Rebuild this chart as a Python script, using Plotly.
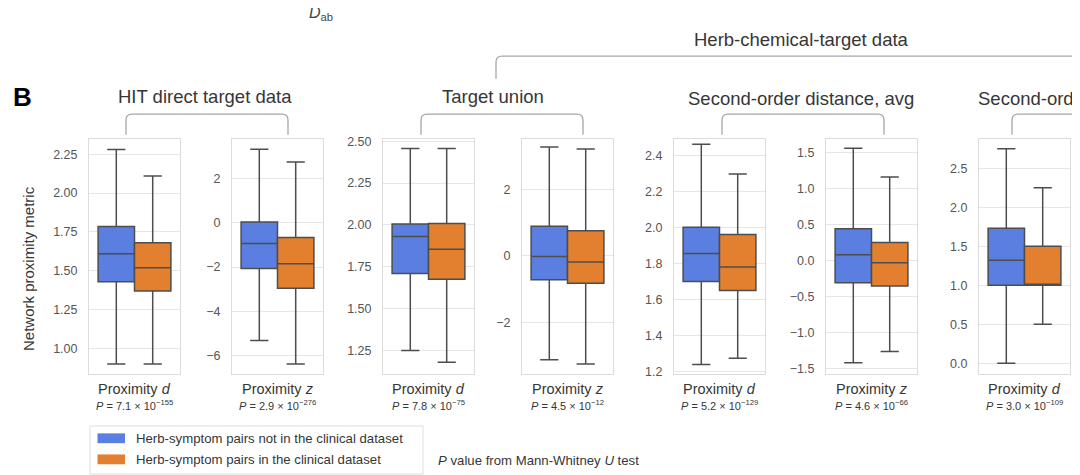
import plotly.graph_objects as go

W, H = 1080, 475

# ---------------- data ----------------
metric_labels = ["Proximity <i>d</i>", "Proximity <i>z</i>", "Proximity <i>d</i>", "Proximity <i>z</i>",
                 "Proximity <i>d</i>", "Proximity <i>z</i>", "Proximity <i>d</i>"]
p_mantissa = ["7.1", "2.9", "7.8", "4.5", "5.2", "4.6", "3.0"]
p_exponent = ["155", "276", "75", "12", "129", "66", "109"]

# Herb-symptom pairs NOT in the clinical dataset
not_lower = [0.90, -5.32, 1.25, -3.11, 1.24, -1.42, 0.00]
not_q1 = [1.43, -2.07, 1.71, -0.71, 1.70, -0.31, 1.00]
not_median = [1.61, -0.94, 1.93, -0.02, 1.855, 0.08, 1.32]
not_q3 = [1.785, 0.03, 2.005, 0.89, 2.00, 0.44, 1.73]
not_upper = [2.28, 3.32, 2.457, 3.27, 2.46, 1.56, 2.75]

# Herb-symptom pairs IN the clinical dataset
in_lower = [0.90, -6.38, 1.18, -3.24, 1.275, -1.265, 0.50]
in_q1 = [1.37, -2.96, 1.675, -0.82, 1.65, -0.355, 1.00]
in_median = [1.52, -1.85, 1.855, -0.185, 1.78, -0.03, 1.00]
in_q3 = [1.68, -0.67, 2.008, 0.755, 1.96, 0.25, 1.50]
in_upper = [2.11, 2.74, 2.457, 3.21, 2.295, 1.16, 2.25]

series_names = ["Herb-symptom pairs not in the clinical dataset",
                "Herb-symptom pairs in the clinical dataset"]

# axis settings
y_ranges = [[0.836, 2.351], [-6.83, 3.80], [1.109, 2.516], [-3.54, 3.52],
            [1.1875, 2.492], [-1.578, 1.695], [-0.138, 2.881]]
y_ticks = [[1.00, 1.25, 1.50, 1.75, 2.00, 2.25], [-6, -4, -2, 0, 2], [1.25, 1.50, 1.75, 2.00, 2.25, 2.50],
           [-2, 0, 2], [1.2, 1.4, 1.6, 1.8, 2.0, 2.2, 2.4], [-1.5, -1.0, -0.5, 0.0, 0.5, 1.0, 1.5],
           [0.0, 0.5, 1.0, 1.5, 2.0, 2.5]]
y_formats = [".2f", "d", ".2f", "d", ".1f", ".1f", ".1f"]

# ---------------- layout geometry (pixels) ----------------
panel_x = [(81, 172), (224, 315), (375, 466), (514, 605), (666, 757), (818, 909), (971, 1062)]
panel_top, panel_bot = 129, 369

BLUE = "#5a7fe1"
ORANGE = "#e2802f"
EDGE = "#4d4d4d"
TXT = "#363636"
FONT = "Liberation Sans, Arial, sans-serif"


def px(x):
    return x / W


def py(y):
    return 1 - y / H


fig = go.Figure()
layout = {}
for i in range(7):
    n = "" if i == 0 else str(i + 1)
    xa, ya = "x" + n, "y" + n
    fig.add_trace(go.Box(
        x=[-0.2], q1=[not_q1[i]], median=[not_median[i]], q3=[not_q3[i]],
        lowerfence=[not_lower[i]], upperfence=[not_upper[i]],
        width=0.4, fillcolor=BLUE, line=dict(color=EDGE, width=1.5),
        whiskerwidth=0.5, name=series_names[0], showlegend=False,
        xaxis=xa, yaxis=ya, hoverinfo="skip"))
    fig.add_trace(go.Box(
        x=[0.2], q1=[in_q1[i]], median=[in_median[i]], q3=[in_q3[i]],
        lowerfence=[in_lower[i]], upperfence=[in_upper[i]],
        width=0.4, fillcolor=ORANGE, line=dict(color=EDGE, width=1.5),
        whiskerwidth=0.5, name=series_names[1], showlegend=False,
        xaxis=xa, yaxis=ya, hoverinfo="skip"))
    L, R = panel_x[i]
    layout["xaxis" + n] = dict(domain=[px(L), px(R)], anchor=ya, range=[-0.5, 0.5],
                               showticklabels=False, showgrid=False, zeroline=False,
                               showline=True, mirror=True, linecolor="#dcdcdc", linewidth=1,
                               fixedrange=True)
    layout["yaxis" + n] = dict(domain=[py(panel_bot), py(panel_top)], anchor=xa, range=y_ranges[i],
                               tickvals=y_ticks[i], tickformat=y_formats[i],
                               showgrid=True, gridcolor="#e6e6e6", gridwidth=1, zeroline=False,
                               showline=True, mirror=True, linecolor="#dcdcdc", linewidth=1,
                               ticks="", ticklabelstandoff=8,
                               tickfont=dict(family=FONT, size=12.5, color="#555555"),
                               fixedrange=True)

annotations = []
shapes = []


def text(x, y, s, size, xanchor="center", color=TXT, angle=0, yanchor="middle"):
    annotations.append(dict(x=px(x), y=py(y), xref="paper", yref="paper", text=s, showarrow=False,
                            xanchor=xanchor, yanchor=yanchor, textangle=angle,
                            font=dict(family=FONT, size=size, color=color)))


# x-axis category labels and P values
for i in range(7):
    L, R = panel_x[i]
    c = (L + R) / 2
    text(c, 384, metric_labels[i], 14.5)
    text(c, 401, "<i>P</i> = %s × 10<sup>−%s</sup>" % (p_mantissa[i], p_exponent[i]), 11)

# y title
text(20, 262, "Network proximity metric", 15, angle=-90)

# panel letter and top label
text(3, 87, "<b>B</b>", 26, xanchor="left", color="#000000")
text(299, 2, "<i>D</i><sub>ab</sub>", 16, xanchor="left", color="#444444")

# group titles
text(197, 86, "HIT direct target data", 18.5)
text(485, 86, "Target union", 18.5)
text(793, 88, "Second-order distance, avg", 18.5)
text(968, 88, "Second-order distance, min", 18.5, xanchor="left")
text(793, 28, "Herb-chemical-target data", 18.5)

BR = "#a6a6a6"


def bracket(x1, x2, ytop, ybot, r=6, right_leg=True):
    p = "M %f,%f L %f,%f Q %f,%f %f,%f L %f,%f" % (
        px(x1), py(ybot), px(x1), py(ytop + r), px(x1), py(ytop), px(x1 + r), py(ytop),
        px(x2 - r), py(ytop))
    if right_leg:
        p += " Q %f,%f %f,%f L %f,%f" % (px(x2), py(ytop), px(x2), py(ytop + r), px(x2), py(ybot))
    shapes.append(dict(type="path", path=p, xref="paper", yref="paper",
                       line=dict(color=BR, width=1.3)))


bracket(118, 280, 104, 125)
bracket(413, 575, 104, 125)
bracket(714, 876, 104, 125)
bracket(1004, 1166, 104, 125)
bracket(488, 1100, 45, 68, right_leg=False)

# legend box
shapes.append(dict(type="rect", xref="paper", yref="paper", x0=px(82), x1=px(415), y0=py(471), y1=py(422),
                   line=dict(color="#dddddd", width=1), fillcolor="white", layer="below"))
shapes.append(dict(type="rect", xref="paper", yref="paper", x0=px(89.5), x1=px(117), y0=py(439.5), y1=py(429.5),
                   line=dict(width=0), fillcolor=BLUE))
shapes.append(dict(type="rect", xref="paper", yref="paper", x0=px(89.5), x1=px(117), y0=py(461), y1=py(451),
                   line=dict(width=0), fillcolor=ORANGE))
text(125.5, 435, series_names[0], 13.2, xanchor="left")
text(125.5, 456, series_names[1], 13.2, xanchor="left")
text(428, 457, "<i>P</i> value from Mann-Whitney <i>U</i> test", 13.2, xanchor="left")

fig.update_layout(width=W, height=H, margin=dict(l=0, r=0, t=0, b=0),
                  paper_bgcolor="white", plot_bgcolor="white",
                  boxmode="overlay", showlegend=False,
                  annotations=annotations, shapes=shapes, **layout)

fig.write_html("out.html")
